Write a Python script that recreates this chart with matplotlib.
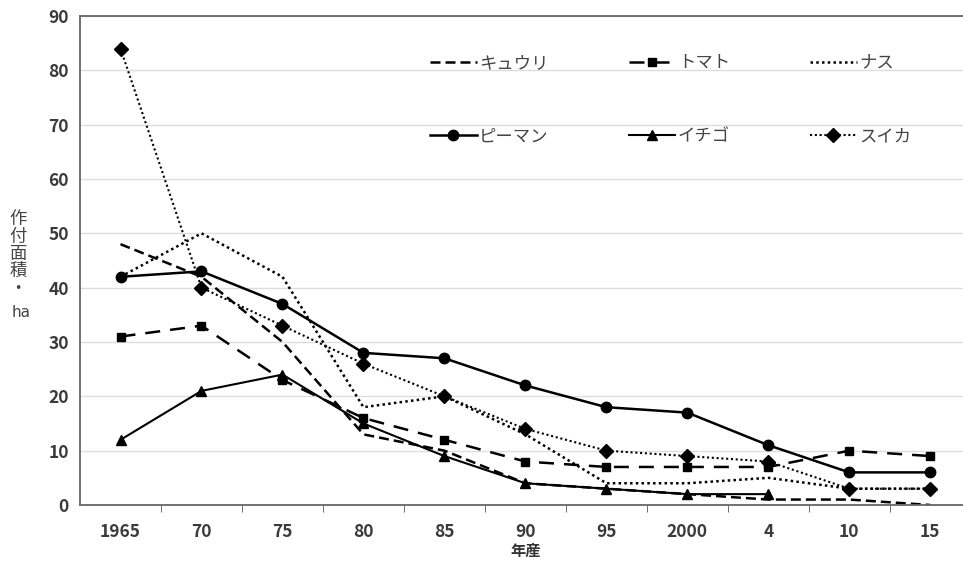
import numpy as np
import matplotlib.pyplot as plt

plt.rcParams['font.family'] = ['Noto Sans CJK JP', 'DejaVu Sans']

years = ['1965', '70', '75', '80', '85', '90', '95', '2000', '4', '10', '15']
kyuri = [48, 42, 30, 13, 10, 4, 3, 2, 1, 1, 0]
tomato = [31, 33, 23, 16, 12, 8, 7, 7, 7, 10, 9]
nasu = [42, 50, 42, 18, 20, 13, 4, 4, 5, 3, 3]
piman = [42, 43, 37, 28, 27, 22, 18, 17, 11, 6, 6]
ichigo = [12, 21, 24, 15, 9, 4, 3, 2, 2, np.nan, np.nan]
suika = [84, 40, 33, 26, 20, 14, 10, 9, 8, 3, 3]

fig = plt.figure(figsize=(9.63, 5.71), dpi=100)
ax = fig.add_axes([0.0831, 0.1156, 0.925, 0.8564])

x = np.arange(len(years))
lw = 1.8
k = 'black'

l_kyuri, = ax.plot(x, kyuri, color=k, lw=lw, dashes=(4, 2), label='キュウリ')
l_tomato, = ax.plot(x, tomato, color=k, lw=lw, dashes=(6, 4), marker='s', ms=6, label='トマト')
l_nasu, = ax.plot(x, nasu, color=k, lw=lw, linestyle=(0, (1, 1.3)), label='ナス')
l_piman, = ax.plot(x, piman, color=k, lw=lw, marker='o', ms=7.5, label='ピーマン')
l_ichigo, = ax.plot(x, ichigo, color=k, lw=1.5, marker='^', ms=7, label='イチゴ')
l_suika, = ax.plot(x, suika, color=k, lw=1.5, linestyle=(0, (1, 1.3)), marker='D', ms=7, label='スイカ')

ax.set_xlim(-0.5, len(years) - 0.5)
ax.set_ylim(0, 90)
ax.set_yticks(range(0, 91, 10))
ax.set_xticks(x)
ax.set_xticklabels(years)
ax.set_xticks(np.arange(0.5, len(years) - 1, 1), minor=True)
ax.tick_params(axis='x', which='major', length=0, pad=13, labelsize=12.5, labelcolor='#3a3a3a')
ax.tick_params(axis='x', which='minor', length=5, direction='out', color='#555555')
ax.tick_params(axis='y', length=0, pad=8, labelsize=12.5, labelcolor='#3a3a3a')
for lab in ax.get_xticklabels() + ax.get_yticklabels():
    lab.set_fontweight('bold')

ax.grid(axis='y', color='#dddddd', lw=1)
ax.set_axisbelow(True)
for s in ['left', 'bottom', 'top']:
    ax.spines[s].set_color('#666666')
    ax.spines[s].set_linewidth(1.3)
ax.spines['right'].set_visible(False)

ax.set_xlabel('年産', fontsize=11, fontweight='bold', color='#333333', labelpad=1)
fig.text(0.019, 0.555, '作\n付\n面\n積\n・', fontsize=12.5, color='#444444',
         ha='center', va='center', linespacing=0.95)
fig.text(0.022, 0.452, 'ha', fontsize=11, color='#444444', ha='center', va='center',
         family='DejaVu Sans')

handles = [l_kyuri, l_piman, l_tomato, l_ichigo, l_nasu, l_suika]
leg = ax.legend(handles=handles, ncol=3, loc='upper left', bbox_to_anchor=(0.375, 0.955),
                frameon=False, fontsize=12.5, handlelength=2.7, handletextpad=0.15,
                columnspacing=4.6, labelspacing=3.2)
for t in leg.get_texts():
    t.set_color('#444444')

fig.savefig('out.png', dpi=100)
